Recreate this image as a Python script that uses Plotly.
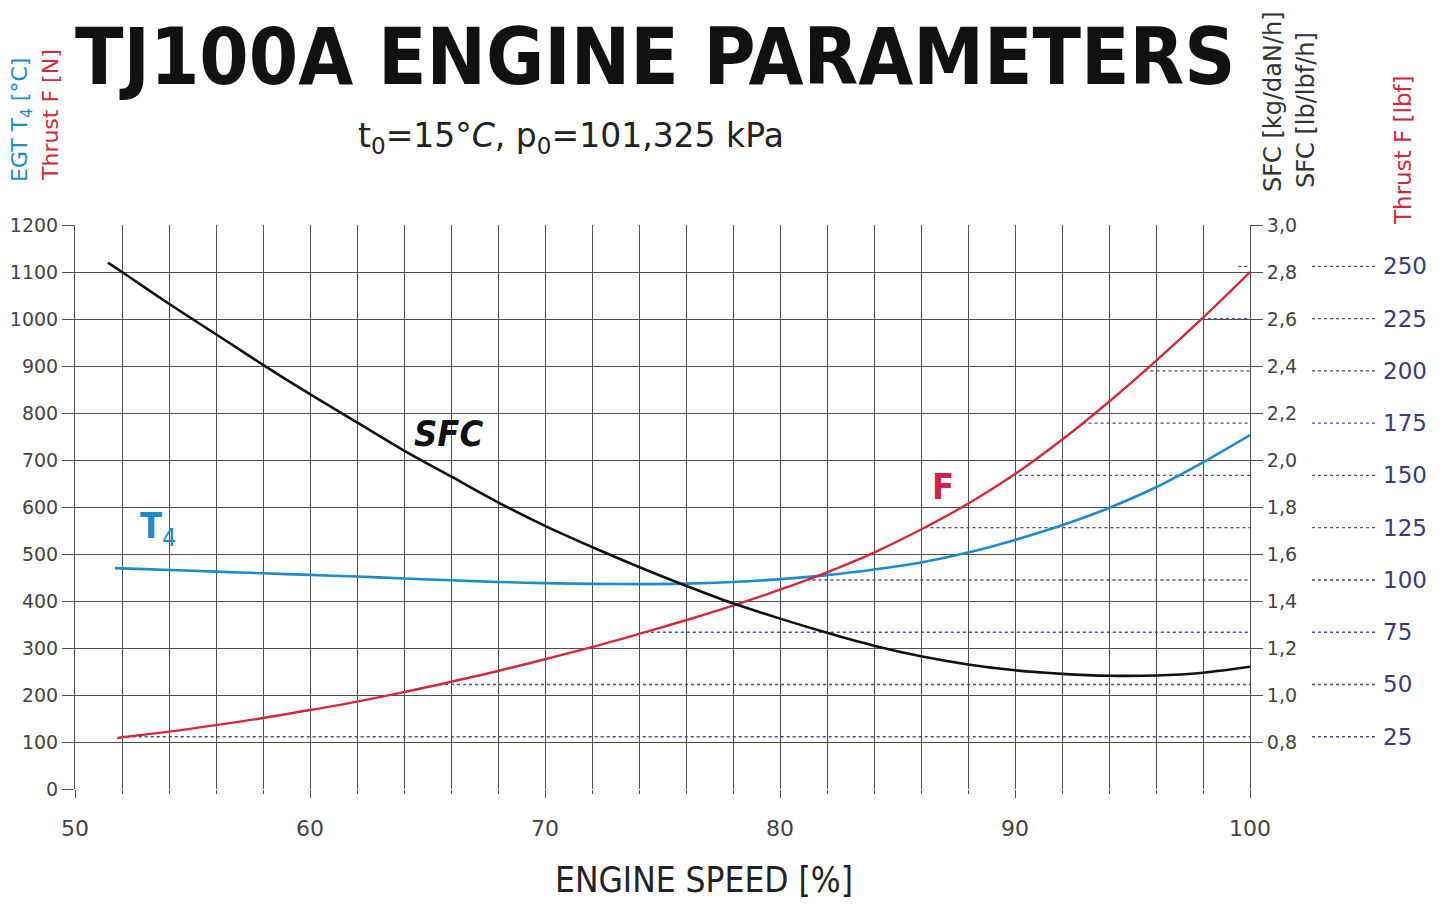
import numpy as np
import plotly.graph_objects as go

# ---------------- data ----------------
sfc_speed = [51.4, 52, 54, 56, 58, 60, 62, 64, 66, 68, 70, 72, 74, 76, 78, 80, 82, 84, 86, 88, 90, 92, 94, 96, 98, 100]
sfc_kg_dan_h = [2.84, 2.80, 2.665, 2.535, 2.405, 2.28, 2.16, 2.04, 1.93, 1.82, 1.72, 1.63, 1.545, 1.465, 1.39,
                1.325, 1.265, 1.21, 1.165, 1.13, 1.105, 1.09, 1.082, 1.083, 1.095, 1.12]

t4_speed = [51.7, 52, 54, 56, 58, 60, 62, 64, 66, 68, 70, 72, 74, 76, 78, 80, 82, 84, 86, 88, 90, 92, 94, 96, 98, 100]
t4_egt_c = [470, 469.5, 466, 462.5, 459, 455.5, 452, 448, 444, 440.5, 438, 436.5, 436, 437, 440.5, 446.5, 455,
            467, 482, 503, 530, 561, 598, 642, 695, 753]

f_speed = [51.8, 52, 54, 56, 58, 60, 62, 64, 66, 68, 70, 72, 74, 76, 78, 80, 82, 84, 86, 88, 90, 92, 94, 96, 98, 100]
f_thrust_n = [108, 110, 122, 136, 151, 168, 186, 206, 228, 251, 276, 302, 330, 359, 390, 424, 461, 503, 552, 607,
              670, 743, 824, 911, 1003, 1100]

thrust_lbf_ticks = [25, 50, 75, 100, 125, 150, 175, 200, 225, 250]
LBF_TO_N = 4.44822

x_tick_vals = [50, 60, 70, 80, 90, 100]
left_tick_vals = [0, 100, 200, 300, 400, 500, 600, 700, 800, 900, 1000, 1100, 1200]
sfc_tick_vals = [0.8, 1.0, 1.2, 1.4, 1.6, 1.8, 2.0, 2.2, 2.4, 2.6, 2.8, 3.0]
sfc_tick_text = ["0,8", "1,0", "1,2", "1,4", "1,6", "1,8", "2,0", "2,2", "2,4", "2,6", "2,8", "3,0"]

# ---------------- layout geometry ----------------
# the page body has an 8px margin, so the figure is sized and placed to compensate
OFF = 8
W, H = 1447 - OFF, 905 - OFF
L, T = 75 - OFF, 225 - OFF
PW, PH = 1175, 564
R, B = W - L - PW, H - T - PH


def px(xp):
    return (xp - OFF - L) / PW


def py(yp):
    return (H - B - (yp - OFF)) / PH


BLUE = "#1d8cc8"
RED = "#d12a3c"
NAVY = "#3b3b78"
GRID = "#505050"
TICKFONT = dict(family="DejaVu Sans", size=19, color="#444444")
HAND = "DejaVu Sans Condensed"

fig = go.Figure()

# thrust [lbf] dotted reference lines (start where the F curve reaches them)
for lbf in thrust_lbf_ticks:
    n = lbf * LBF_TO_N
    x_start = min(float(np.interp(n, f_thrust_n, f_speed)), 99.5)
    fig.add_shape(type="line", xref="x", yref="y", x0=x_start, x1=100.2, y0=n, y1=n,
                  line=dict(color="#4d4d8c", width=1.4, dash="dot"), layer="below")
    fig.add_shape(type="line", xref="paper", yref="y", x0=px(1312), x1=px(1378), y0=n, y1=n,
                  line=dict(color="#4d4d8c", width=1.4, dash="dot"))
    fig.add_annotation(xref="paper", yref="y", x=px(1381), y=n, text=str(lbf), showarrow=False,
                       xanchor="left", yanchor="middle",
                       font=dict(family="DejaVu Sans", size=23, color=NAVY))

fig.add_trace(go.Scatter(x=t4_speed, y=t4_egt_c, mode="lines", line=dict(color=BLUE, width=2.6, shape="spline"),
                         name="T4", showlegend=False))
fig.add_trace(go.Scatter(x=f_speed, y=f_thrust_n, mode="lines", line=dict(color=RED, width=2.4, shape="spline"),
                         name="F", showlegend=False))
fig.add_trace(go.Scatter(x=sfc_speed, y=sfc_kg_dan_h, mode="lines", yaxis="y2",
                         line=dict(color="#111111", width=2.6, shape="spline"), name="SFC", showlegend=False))

fig.update_layout(
    width=W, height=H,
    margin=dict(l=L, r=R, t=T, b=B, autoexpand=False),
    paper_bgcolor="white", plot_bgcolor="white",
    xaxis=dict(range=[50, 100], tickvals=x_tick_vals, ticktext=[str(v) for v in x_tick_vals],
               automargin=False,
               showgrid=True, gridcolor=GRID, gridwidth=1, zeroline=False, showline=False,
               ticks="outside", ticklen=8, tickcolor=GRID, ticklabelstandoff=12, tickfont=dict(TICKFONT, size=22),
               minor=dict(dtick=2, showgrid=True, gridcolor=GRID, gridwidth=1, ticks="outside", ticklen=4,
                          tickcolor=GRID)),
    yaxis=dict(range=[0, 1200], tickvals=left_tick_vals, showgrid=True, gridcolor=GRID, gridwidth=1,
               automargin=False,
               zeroline=False, showline=True, linecolor=GRID, ticks="outside", ticklen=12, tickcolor=GRID,
               tickfont=TICKFONT),
    yaxis2=dict(range=[0.6, 3.0], overlaying="y", side="right", tickvals=sfc_tick_vals, ticktext=sfc_tick_text,
                automargin=False,
                showgrid=False, zeroline=False, showline=True, linecolor=GRID, ticks="outside", ticklen=12,
                tickcolor=GRID, tickfont=TICKFONT),
)

# ---------------- texts ----------------
fig.add_annotation(xref="paper", yref="paper", x=px(655), y=py(57), text="<b>TJ100A ENGINE PARAMETERS</b>",
                   showarrow=False, xanchor="center", yanchor="middle",
                   font=dict(family=HAND, size=79, color="#111111"))
fig.add_annotation(xref="paper", yref="paper", x=px(571), y=py(137),
                   text="t<sub>0</sub>=15°<i>C</i>, p<sub>0</sub>=101,325 kPa",
                   showarrow=False, xanchor="center", yanchor="middle",
                   font=dict(family="DejaVu Sans", size=33, color="#222222"))
fig.add_annotation(xref="paper", yref="paper", x=px(704), y=py(880), text="ENGINE SPEED [%]",
                   showarrow=False, xanchor="center", yanchor="middle",
                   font=dict(family=HAND, size=35, color="#222222"))

fig.add_annotation(xref="paper", yref="paper", x=px(22), y=py(120), text="EGT T<sub>4</sub> [°C]",
                   textangle=-90, showarrow=False, xanchor="center", yanchor="middle",
                   font=dict(family="DejaVu Sans", size=22, color=BLUE))
fig.add_annotation(xref="paper", yref="paper", x=px(50), y=py(115), text="Thrust F [N]",
                   textangle=-90, showarrow=False, xanchor="center", yanchor="middle",
                   font=dict(family="DejaVu Sans", size=22, color=RED))
fig.add_annotation(xref="paper", yref="paper", x=px(1273), y=py(102), text="SFC [kg/daN/h]",
                   textangle=-90, showarrow=False, xanchor="center", yanchor="middle",
                   font=dict(family="DejaVu Sans", size=24, color="#333333"))
fig.add_annotation(xref="paper", yref="paper", x=px(1306), y=py(110), text="SFC [lb/lbf/h]",
                   textangle=-90, showarrow=False, xanchor="center", yanchor="middle",
                   font=dict(family="DejaVu Sans", size=24, color="#333333"))
fig.add_annotation(xref="paper", yref="paper", x=px(1403), y=py(150), text="Thrust F [lbf]",
                   textangle=-90, showarrow=False, xanchor="center", yanchor="middle",
                   font=dict(family="DejaVu Sans", size=23, color=RED))

fig.add_annotation(xref="paper", yref="paper", x=px(448), y=py(433), text="<b><i>SFC</i></b>",
                   showarrow=False, xanchor="center", yanchor="middle",
                   font=dict(family=HAND, size=36, color="#111111"))
fig.add_annotation(xref="paper", yref="paper", x=px(158), y=py(528), text="<b>T</b><sub>4</sub>",
                   showarrow=False, xanchor="center", yanchor="middle",
                   font=dict(family=HAND, size=36, color=BLUE))
fig.add_annotation(xref="paper", yref="paper", x=px(943), y=py(487), text="<b>F</b>",
                   showarrow=False, xanchor="center", yanchor="middle",
                   font=dict(family=HAND, size=36, color="#d4204e"))

fig.write_html("out.html")
